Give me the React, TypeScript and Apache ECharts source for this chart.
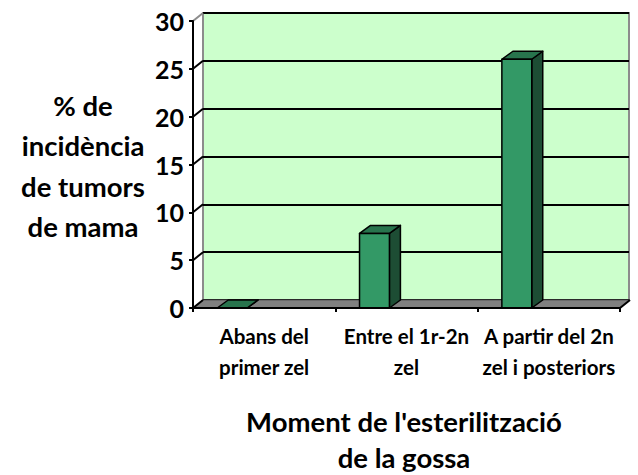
import React, { useEffect, useRef } from "react";
import * as echarts from "echarts";

const categories = ["Abans del\nprimer zel", "Entre el 1r-2n\nzel", "A partir del 2n\nzel i posteriors"];
const values = [0, 7.8, 26];
const yTicks = [0, 5, 10, 15, 20, 25, 30];
const yName = "% de\nincidència\nde tumors\nde mama";
const xName = "Moment de l'esterilització\nde la gossa";

const FONT = "Lato, 'Noto Sans', sans-serif";

export default function App() {
  const ref = useRef<HTMLDivElement>(null);
  useEffect(() => {
    if (!ref.current) return;
    const chart = echarts.init(ref.current, null, { renderer: "svg" });
    const depthX = 10;
    const depthY = -8;
    chart.setOption({
      animation: false,
      backgroundColor: "#ffffff",
      textStyle: { fontFamily: FONT },
      title: [
        {
          text: xName,
          left: 404,
          top: 404,
          padding: 0,
          textAlign: "center",
          textStyle: { fontFamily: FONT, fontWeight: "bold", fontSize: 27.5, lineHeight: 35.5, color: "#000" },
        },
        {
          text: yName,
          left: 78,
          top: 80,
          textAlign: "center",
          textStyle: { fontFamily: FONT, fontWeight: "bold", fontSize: 27.5, lineHeight: 40.5, color: "#000" },
        },
      ],
      grid: [
        { left: 193, right: 18, top: 21, bottom: 167, containLabel: false },
        {
          left: 203, right: 9, top: 13, bottom: 175, containLabel: false,
          show: true, backgroundColor: "#ccffcc", borderColor: "#8c8c8c", borderWidth: 2, z: 0,
        },
      ],
      xAxis: [
        {
          type: "category",
          gridIndex: 0,
          data: categories,
          z: 10,
          axisLine: { show: true, lineStyle: { color: "#000", width: 2 } },
          axisTick: { show: true, length: 4, lineStyle: { color: "#000", width: 2 } },
          axisLabel: {
            interval: 0, margin: 12, color: "#000", fontFamily: FONT, fontWeight: "bold",
            fontSize: 20.5, lineHeight: 31,
          },
        },
        { type: "category", gridIndex: 1, data: categories, show: false },
      ],
      yAxis: [
        {
          type: "value",
          gridIndex: 0,
          min: 0, max: 30, interval: 5,
          z: 10,
          axisLine: { show: true, lineStyle: { color: "#000", width: 2 } },
          axisTick: { show: true, length: 4, lineStyle: { color: "#000", width: 2 } },
          axisLabel: { margin: 9, color: "#000", fontFamily: FONT, fontWeight: "bold", fontSize: 25 },
          splitLine: { show: false },
        },
        {
          type: "value",
          gridIndex: 1,
          min: 0, max: 30, interval: 5,
          axisLine: { show: false },
          axisTick: { show: false },
          axisLabel: { show: false },
          splitLine: { show: true, lineStyle: { color: "#000", width: 2 } },
        },
      ],
      series: [
        {
          type: "custom",
          name: "walls",
          xAxisIndex: 0,
          yAxisIndex: 0,
          z: 1,
          silent: true,
          data: yTicks.map((v) => [0, v]),
          encode: { x: 0, y: 1 },
          renderItem: (params: any, api: any) => {
            const v = api.value(1);
            const cs = params.coordSys;
            const y = api.coord([0, v])[1];
            const x0 = cs.x;
            const children: any[] = [];
            if (params.dataIndex === 0) {
              const x1 = cs.x + cs.width;
              children.push({
                type: "polygon",
                shape: { points: [[x0, y], [x1, y], [x1 + depthX, y + depthY], [x0 + depthX, y + depthY]] },
                style: { fill: "#808080", stroke: "#555", lineWidth: 1 },
              });
              children.push({
                type: "line",
                shape: { x1: x1, y1: y, x2: x1 + depthX, y2: y + depthY },
                style: { stroke: "#000", lineWidth: 2 },
              });
            }
            children.push({
              type: "line",
              shape: { x1: x0, y1: y, x2: x0 + depthX, y2: y + depthY },
              style: { stroke: v === 30 ? "#8c8c8c" : "#000", lineWidth: 2 },
            });
            return { type: "group", children };
          },
        },
        {
          type: "custom",
          name: "bars",
          xAxisIndex: 0,
          yAxisIndex: 0,
          z: 5,
          data: values.map((v, i) => [i, v]),
          encode: { x: 0, y: 1 },
          renderItem: (params: any, api: any) => {
            const i = api.value(0);
            const v = api.value(1);
            const b = api.coord([i, 0]);
            const t = api.coord([i, v]);
            const bw = api.size([1, 0])[0];
            const fl = b[0] - bw * 0.33;
            const fr = b[0] - bw * 0.12;
            const dx = 11;
            const dy = -8;
            const st = { stroke: "#000", lineWidth: 1.5, lineJoin: "round" };
            return {
              type: "group",
              children: [
                {
                  type: "polygon",
                  shape: { points: [[fr, t[1]], [fr + dx, t[1] + dy], [fr + dx, b[1] + dy], [fr, b[1]]] },
                  style: { fill: "#1d4d34", ...st },
                },
                {
                  type: "polygon",
                  shape: { points: [[fl, t[1]], [fr, t[1]], [fr + dx, t[1] + dy], [fl + dx, t[1] + dy]] },
                  style: { fill: "#28744d", ...st },
                },
                {
                  type: "rect",
                  shape: { x: fl, y: t[1], width: fr - fl, height: b[1] - t[1] },
                  style: { fill: "#339966", ...st },
                },
              ],
            };
          },
        },
      ],
    });
    return () => chart.dispose();
  }, []);
  return (
    <div
      ref={ref}
      style={{ position: "fixed", left: 0, top: 0, width: 638, height: 475, background: "#fff" }}
    />
  );
}
